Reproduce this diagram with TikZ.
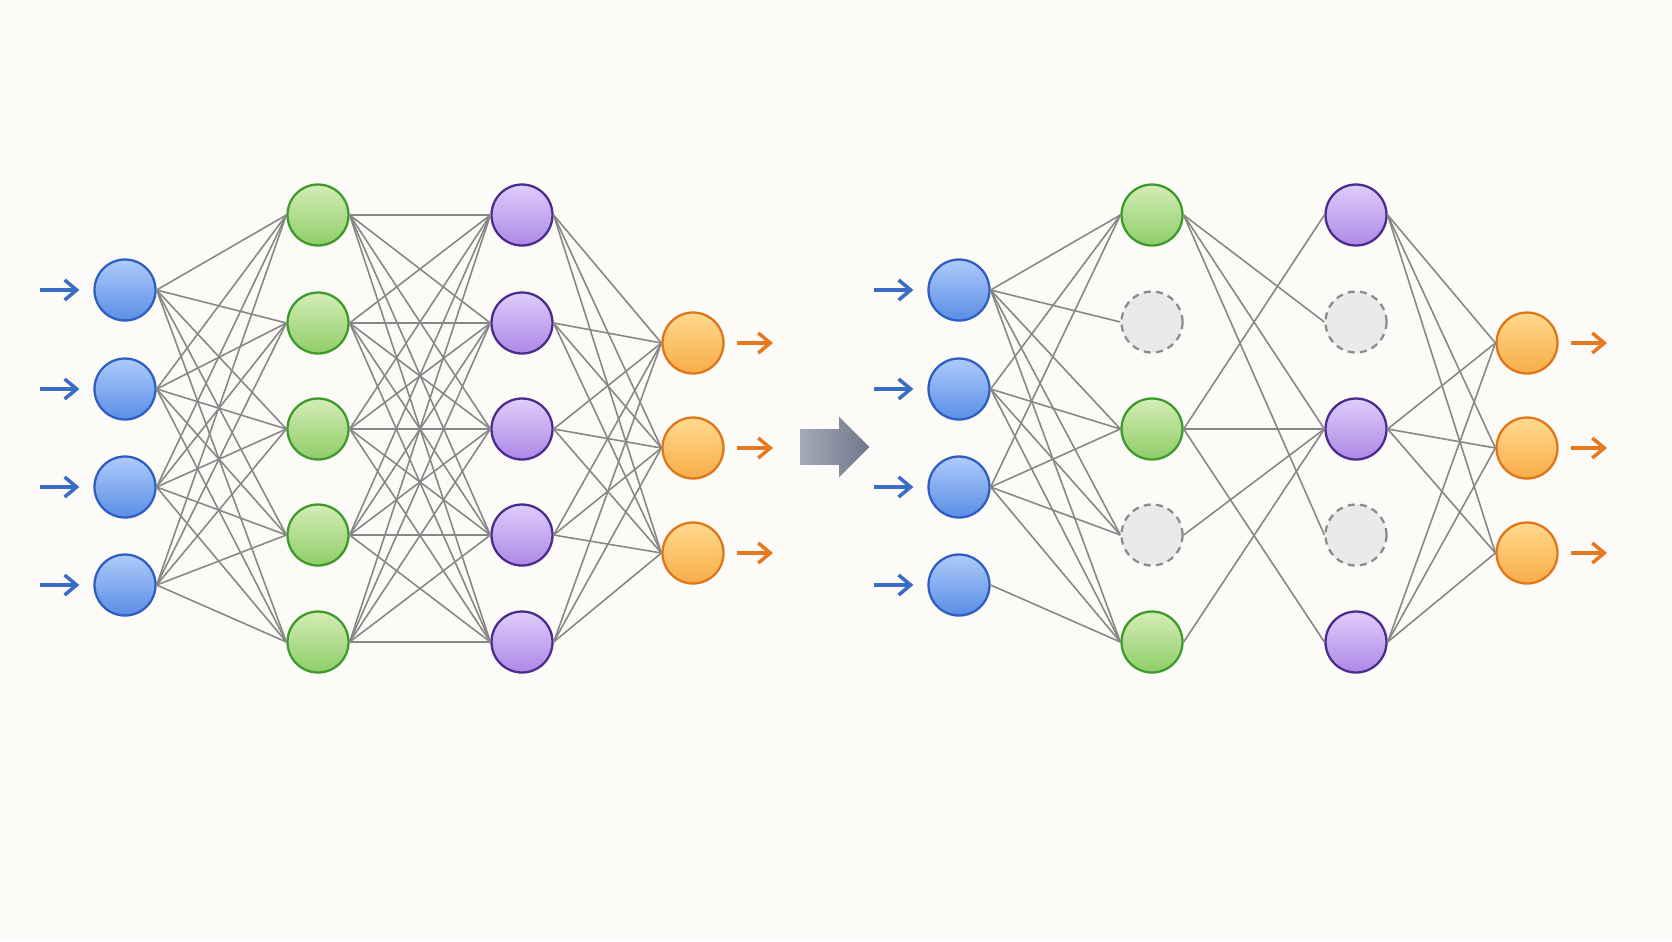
\documentclass[tikz,border=0pt]{standalone}
\usepackage{xcolor}
\usetikzlibrary{arrows.meta,shapes.arrows}
\definecolor{BgCream}{HTML}{FCFBF7}
\definecolor{InTop}{HTML}{AECBFA}
\definecolor{InBot}{HTML}{5A8DE6}
\definecolor{InEdge}{HTML}{2E5FC0}
\definecolor{HaTop}{HTML}{D3EDB6}
\definecolor{HaBot}{HTML}{8FCD68}
\definecolor{HaEdge}{HTML}{3E9A2B}
\definecolor{HbTop}{HTML}{E0CCFB}
\definecolor{HbBot}{HTML}{AC88E6}
\definecolor{HbEdge}{HTML}{4A2C8C}
\definecolor{OutTop}{HTML}{FFDA8E}
\definecolor{OutBot}{HTML}{F8AC48}
\definecolor{OutEdge}{HTML}{E0761A}
\definecolor{DropFill}{HTML}{E9EAEC}
\definecolor{DropEdge}{HTML}{8C8C8C}
\definecolor{LinkGray}{HTML}{878787}
\definecolor{InArrow}{HTML}{3A6CC6}
\definecolor{OutArrow}{HTML}{E8781E}
\definecolor{ArrLeft}{HTML}{A3AAB7}
\definecolor{ArrRight}{HTML}{6E788A}

\begin{document}
\begin{tikzpicture}[x=0.02cm,y=-0.02cm,>={Straight Barb[length=2.4mm,width=4mm,line width=2pt]}]
\tikzset{unit/.style={circle,line width=1.3pt,minimum size=1.22cm,inner sep=0pt},
         inunit/.style={unit,draw=InEdge,top color=InTop,bottom color=InBot},
         haunit/.style={unit,draw=HaEdge,top color=HaTop,bottom color=HaBot},
         hbunit/.style={unit,draw=HbEdge,top color=HbTop,bottom color=HbBot},
         outunit/.style={unit,draw=OutEdge,top color=OutTop,bottom color=OutBot},
         drop/.style={unit,draw=DropEdge,fill=DropFill,dash pattern=on 4pt off 3pt},
         link/.style={draw=LinkGray,line width=0.9pt},
         inarr/.style={->,draw=InArrow,line width=1.8pt},
         outarr/.style={->,draw=OutArrow,line width=1.8pt}}
\useasboundingbox[fill=BgCream] (0,0) rectangle (1672,941);
% inputs and outputs of both nets
\foreach \p/\dx in {l/0,r/834}{
  \foreach \i/\y in {1/290,2/389,3/487,4/585}{
    \node[inunit] (\p-in\i) at (125+\dx,\y) {};
    \coordinate (\p-src\i) at (40+\dx,\y);
    \draw[inarr,shorten >=0.28cm] (\p-src\i) -- (\p-in\i.west);
  }
  \foreach \k/\y in {1/343,2/448,3/553}{
    \node[outunit] (\p-out\k) at (693+\dx,\y) {};
    \coordinate (\p-dst\k) at (773+\dx,\y);
    \draw[outarr,shorten <=0.24cm] (\p-out\k.east) -- (\p-dst\k);
  }
}
% full net
\foreach \j/\y in {1/215,2/323,3/429,4/535,5/642}{
  \node[haunit] (l-ha\j) at (318,\y) {};
  \node[hbunit] (l-hb\j) at (522,\y) {};
}
\foreach \a in {1,...,4} \foreach \b in {1,...,5} \draw[link] (l-in\a.east) -- (l-ha\b.west);
\foreach \a in {1,...,5} \foreach \b in {1,...,5} \draw[link] (l-ha\a.east) -- (l-hb\b.west);
\foreach \a in {1,...,5} \foreach \b in {1,2,3} \draw[link] (l-hb\a.east) -- (l-out\b.west);
% dropout net
\foreach \j/\y in {1/215,3/429,5/642}{
  \node[haunit] (r-ha\j) at (1152,\y) {};
  \node[hbunit] (r-hb\j) at (1356,\y) {};
}
\foreach \j/\y in {2/322,4/535}{
  \node[drop] (r-ha\j) at (1152,\y) {};
  \node[drop] (r-hb\j) at (1356,\y) {};
}
\foreach \a/\b in {1/1,1/2,1/3,1/4,1/5,2/1,2/3,2/4,2/5,3/1,3/3,3/4,3/5,4/5}
  \draw[link] (r-in\a.east) -- (r-ha\b.west);
\foreach \a/\b in {1/2,1/3,1/4,3/1,3/3,3/5,4/3,5/3}
  \draw[link] (r-ha\a.east) -- (r-hb\b.west);
\foreach \a in {1,3,5} \foreach \b in {1,2,3} \draw[link] (r-hb\a.east) -- (r-out\b.west);
% middle arrow
\node[single arrow,minimum height=1.38cm,single arrow head extend=0.25cm,
      inner sep=0pt,left color=ArrLeft,right color=ArrRight] (step-arrow) at (826,447) {\rule{0pt}{0.7cm}};
\end{tikzpicture}
\end{document}
